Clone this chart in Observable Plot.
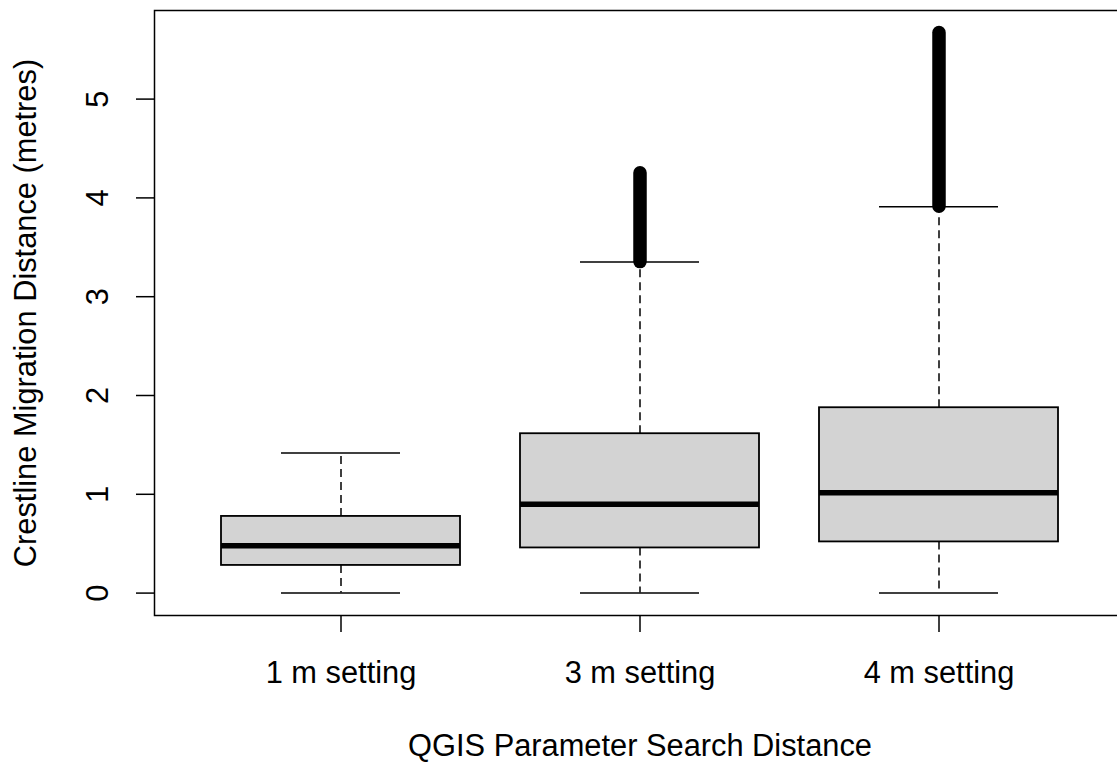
<!DOCTYPE html>
<html>
<head>
<meta charset="utf-8">
<script src="https://cdn.jsdelivr.net/npm/d3@7"></script>
<script src="https://cdn.jsdelivr.net/npm/@observablehq/plot@0.6"></script>
<style>
  html, body { margin: 0; padding: 0; background: white; overflow: hidden; }
  #chart svg { display: block; overflow: hidden; }
</style>
</head>
<body>
<div id="chart"></div>
<script>
// Data
const categories = ["1 m setting", "3 m setting", "4 m setting"];
const lowerWhisker = [0, 0, 0];
const q1 = [0.28, 0.457, 0.518];
const median = [0.478, 0.898, 1.016];
const q3 = [0.776, 1.613, 1.876];
const upperWhisker = [1.417, 3.35, 3.91];
// outliers form a continuous dense column between these values
const outlierMin = [null, 3.35, 3.91];
const outlierMax = [null, 4.25, 5.67];
const yTicks = [0, 1, 2, 3, 4, 5];
const xTitle = "QGIS Parameter Search Distance";
const yTitle = "Crestline Migration Distance (metres)";

const rows = categories.map((c, i) => ({
  cat: c, lo: lowerWhisker[i], q1: q1[i], med: median[i], q3: q3[i], hi: upperWhisker[i],
  omin: outlierMin[i], omax: outlierMax[i]
}));
const outRows = rows.filter(d => d.omin != null);

const yMax = d3.max(outlierMax.concat(upperWhisker));
const yMin = d3.min(lowerWhisker);
const pad = (yMax - yMin) * 0.04;

const font = "Liberation Sans, Arial, sans-serif";
const fs = 30.8;

const chart = Plot.plot({
  width: 1117,
  height: 762,
  marginLeft: 154,
  marginRight: -8,
  marginTop: 10,
  marginBottom: 147,
  style: { fontFamily: font, fontSize: fs + "px", color: "black", background: "white" },
  x: { domain: categories, paddingInner: 0.2, paddingOuter: 0.22, label: null },
  y: { domain: [yMin - pad, yMax + pad], label: null },
  marks: [
    // whiskers (dashed)
    Plot.ruleX(rows, { x: "cat", y1: "q3", y2: "hi", stroke: "black", strokeWidth: 1.5, strokeDasharray: "8,5" }),
    Plot.ruleX(rows, { x: "cat", y1: "q1", y2: "lo", stroke: "black", strokeWidth: 1.5, strokeDasharray: "8,5" }),
    // whisker caps
    Plot.tickY(rows, { x: "cat", y: "hi", stroke: "black", strokeWidth: 1.5, insetLeft: 60, insetRight: 60 }),
    Plot.tickY(rows, { x: "cat", y: "lo", stroke: "black", strokeWidth: 1.5, insetLeft: 60, insetRight: 60 }),
    // outliers column
    Plot.ruleX(outRows, { x: "cat", y1: "omin", y2: "omax", stroke: "black", strokeWidth: 13.5, strokeLinecap: "round" }),
    // boxes
    Plot.barY(rows, { x: "cat", y1: "q1", y2: "q3", fill: "#d3d3d3", stroke: "black", strokeWidth: 1.8 }),
    // medians
    Plot.tickY(rows, { x: "cat", y: "med", stroke: "black", strokeWidth: 5.5 }),
    // frame
    Plot.frame({ stroke: "black", strokeWidth: 1.5 }),
    // y axis ticks
    Plot.axisY({ ticks: yTicks, tickSize: 18, tickFormat: () => "", strokeWidth: 1.5, label: null }),
    // y tick labels (rotated, R style)
    Plot.text(yTicks, { y: d => d, text: d => String(d), frameAnchor: "left", dx: -56, rotate: -90,
      textAnchor: "middle", lineAnchor: "middle", fontSize: fs, fill: "black" }),
    // x axis
    Plot.axisX({ tickSize: 17, tickPadding: 28.5, fontSize: fs, strokeWidth: 1.5, label: null }),
    // axis titles
    Plot.text([xTitle], { frameAnchor: "bottom", dy: 140, text: d => d, lineAnchor: "bottom", fontSize: fs, fill: "black" }),
    Plot.text([yTitle], { frameAnchor: "left", dx: -128, rotate: -90, text: d => d, textAnchor: "middle",
      lineAnchor: "middle", fontSize: fs, fill: "black" })
  ]
});
document.getElementById("chart").appendChild(chart);
</script>
</body>
</html>
